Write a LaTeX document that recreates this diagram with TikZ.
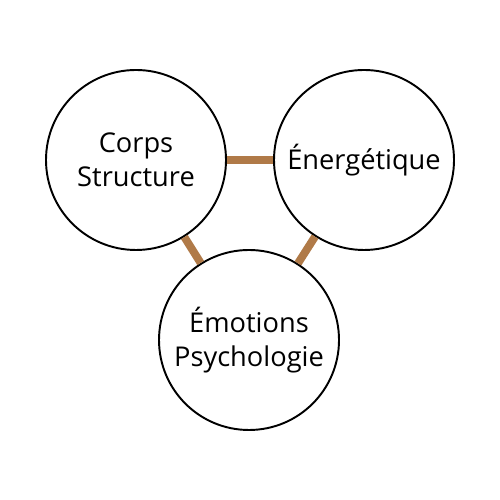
\documentclass[tikz,border=0pt]{standalone}
\usepackage{fontspec}
\setmainfont{Open Sans}
\usepackage{xcolor}
\definecolor{brun}{RGB}{176,122,72}

\begin{document}
\begin{tikzpicture}[
  bulle/.style={draw,circle,line width=1.1pt,minimum size=3.6cm,inner sep=0pt,align=center,font=\fontsize{15.5}{19.5}\selectfont},
  lien/.style={draw=brun,line width=4.5pt}]
\useasboundingbox (0,0) rectangle (10,10);
\node[bulle] (corps) at (2.72,6.8) {Corps\\Structure};
\node[bulle] (energie) at (7.28,6.8) {Énergétique};
\node[bulle] (emotions) at (4.98,3.2) {Émotions\\Psychologie};
\draw[lien] (corps) -- (energie);
\draw[lien] (corps) -- (emotions);
\draw[lien] (energie) -- (emotions);
\end{tikzpicture}
\end{document}
